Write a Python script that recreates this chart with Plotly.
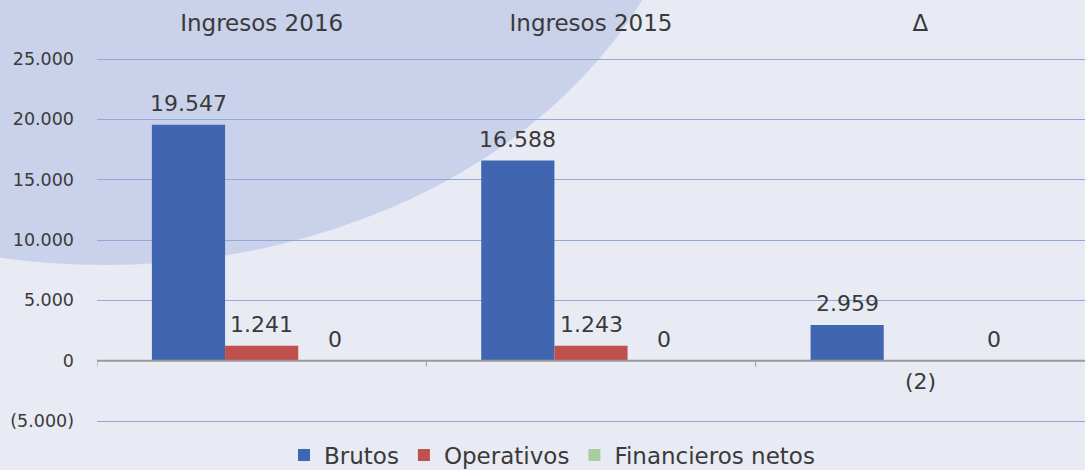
import plotly.graph_objects as go

# ---- data ----
categories = ["Ingresos 2016", "Ingresos 2015", "Δ"]
brutos = [19547, 16588, 2959]
operativos = [1241, 1243, -2]
financieros = [0, 0, 0]
series_names = ["Brutos", "Operativos", "Financieros netos"]
series_colors = ["#4066b2", "#c0504d", "#a9cda1"]
y_tick_vals = [-5000, 0, 5000, 10000, 15000, 20000, 25000]
y_tick_labels = ["(5.000)", "0", "5.000", "10.000", "15.000", "20.000", "25.000"]

FONT = "DejaVu Sans"
TXT = "#3a3a3a"
AXIS_GREY = "#9a9a9a"


def fmt(v):
    s = f"{abs(v):,}".replace(",", ".")
    return f"({s})" if v < 0 else s


series_values = [brutos, operativos, financieros]

fig = go.Figure()
for name, vals, col in zip(series_names, series_values, series_colors):
    fig.add_trace(go.Bar(name=name, x=categories, y=vals, marker=dict(color=col, line=dict(width=0))))

# data labels
n = len(series_values)
bar_w = (1 - 1 / 3) / n
annotations = []
for i, vals in enumerate(series_values):
    off = (i - (n - 1) / 2) * bar_w
    for j, v in enumerate(vals):
        annotations.append(dict(
            x=j + off, y=v, xref="x", yref="y", text=fmt(v), showarrow=False,
            yshift=21 if v >= 0 else -21, yanchor="middle",
            font=dict(family=FONT, size=22, color=TXT)))

# small padding beyond the outer gridlines so they are drawn (2 px)
PAD = 2 * 30000 / 362
L, R, T, B = 97, 0, 57, 47
W, H = 1085, 470
pw, ph = W - L - R, H - T - B


def px2paper_x(px):
    return (px - L) / pw


def px2paper_y(py):
    return (H - B - py) / ph


cx, cy, rx, ry = 105, -200, 595, 465
shapes = [dict(type="circle", xref="paper", yref="paper", layer="below",
               x0=px2paper_x(cx - rx), x1=px2paper_x(cx + rx),
               y0=px2paper_y(cy + ry), y1=px2paper_y(cy - ry),
               fillcolor="#cad1ea", line=dict(width=0))]
# category axis line at zero with boundary tick marks
shapes.append(dict(type="line", xref="paper", yref="y", layer="above",
                   x0=0, x1=1, y0=0, y1=0, line=dict(color=AXIS_GREY, width=2)))
for k in range(len(categories)):
    shapes.append(dict(type="line", xref="x", yref="y", layer="above",
                       ysizemode="pixel", yanchor=0, x0=k - 0.5, x1=k - 0.5,
                       y0=0, y1=-6, line=dict(color=AXIS_GREY, width=1)))

fig.update_layout(
    width=W, height=H,
    margin=dict(l=L, r=R, t=T, b=B, autoexpand=False),
    paper_bgcolor="#e8ebf4",
    plot_bgcolor="rgba(0,0,0,0)",
    barmode="group", bargap=1 / 3, bargroupgap=0,
    font=dict(family=FONT, color=TXT),
    shapes=shapes,
    annotations=annotations,
    showlegend=True,
    legend=dict(orientation="h", x=px2paper_x(552), xanchor="center",
                y=px2paper_y(455), yanchor="middle",
                font=dict(family=FONT, size=23, color=TXT),
                bgcolor="rgba(0,0,0,0)"),
    xaxis=dict(type="category", categoryorder="array", categoryarray=categories,
               side="top", showgrid=False, ticks="", showline=False,
               ticklabelstandoff=20, automargin=False,
               tickfont=dict(family=FONT, size=23, color=TXT),
               range=[-0.5, 2.5]),
    yaxis=dict(range=[-5000 - PAD, 25000 + PAD], tickvals=y_tick_vals, ticktext=y_tick_labels,
               showgrid=True, gridcolor="#93a8d8", gridwidth=1, automargin=False,
               zeroline=False, ticks="", ticklabelstandoff=22,
               tickfont=dict(family=FONT, size=17.5, color=TXT)),
)

fig.write_html("out.html", config={"displayModeBar": False},
               post_script="document.body.style.margin='0';")
